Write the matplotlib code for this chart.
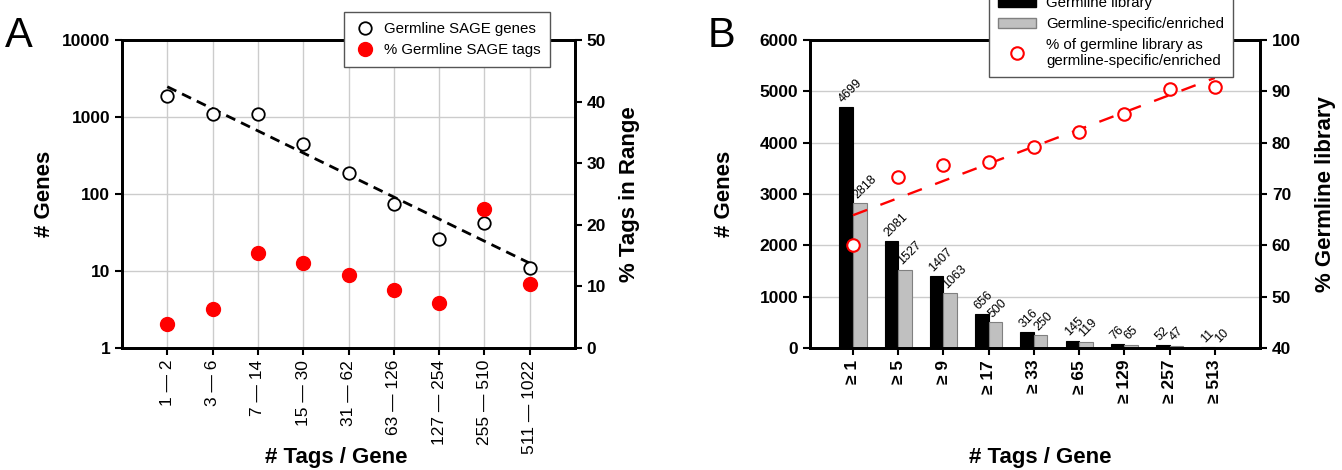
import numpy as np
import matplotlib
matplotlib.use('Agg')
import matplotlib.pyplot as plt
from matplotlib.lines import Line2D
from matplotlib.patches import Patch
from matplotlib.ticker import FixedLocator, NullLocator, FixedFormatter

plt.rcParams['font.family'] = ['Liberation Sans', 'DejaVu Sans']

# panel A data
ranges_a = ['1 \u2014 2', '3 \u2014 6', '7 \u2014 14', '15 \u2014 30', '31 \u2014 62',
            '63 \u2014 126', '127 \u2014 254', '255 \u2014 510', '511 \u2014 1022']
sage_genes = [1850, 1100, 1100, 450, 185, 75, 26, 42, 11]
pct_tags = [3.9, 6.3, 15.4, 13.8, 11.9, 9.4, 7.3, 22.6, 10.4]

# panel B data
ranges_b = ['\u2265 1', '\u2265 5', '\u2265 9', '\u2265 17', '\u2265 33',
            '\u2265 65', '\u2265 129', '\u2265 257', '\u2265 513']
germline_lib = [4699, 2081, 1407, 656, 316, 145, 76, 52, 11]
germline_spec = [2818, 1527, 1063, 500, 250, 119, 65, 47, 10]

fig = plt.figure(figsize=(13.42, 4.70), dpi=100)

grid_col = '#cccccc'


def style_box(ax):
    for s in ax.spines.values():
        s.set_linewidth(2)


def bold_ticks(labels, size=12.5):
    for lab in labels:
        lab.set_fontweight('bold')
        lab.set_fontsize(size)


# ---------------- Panel A ----------------
ax = fig.add_axes([0.0909, 0.2596, 0.3376, 0.6553])
x = np.arange(len(ranges_a))
ax.set_yscale('log')
ax.set_ylim(1, 10000)
ax.set_xlim(-1, 9)
ax.yaxis.set_major_locator(FixedLocator([1, 10, 100, 1000, 10000]))
ax.yaxis.set_major_formatter(FixedFormatter(['1', '10', '100', '1000', '10000']))
ax.yaxis.set_minor_locator(NullLocator())
ax.set_xticks(x)
ax.set_xticklabels(ranges_a, rotation=90, fontsize=12.5)
ax.grid(True, color=grid_col, lw=1)
ax.set_axisbelow(True)
bold_ticks(ax.get_yticklabels())
ax.tick_params(axis='both', direction='out', length=5, width=1.5)
style_box(ax)

# trend line through log of gene counts
fit = np.polyfit(x, np.log10(sage_genes), 1)
xf = np.array([0, 8])
ax.plot(xf, 10 ** np.polyval(fit, xf), color='black', lw=2, dashes=(3.6, 2.3), zorder=3)
ax.plot(x, sage_genes, 'o', ms=9, mfc='white', mec='black', mew=1.3, zorder=4)

ax2 = ax.twinx()
ax2.set_ylim(0, 50)
ax2.set_yticks([0, 10, 20, 30, 40, 50])
bold_ticks(ax2.get_yticklabels())
ax2.tick_params(axis='y', direction='out', length=5, width=1.5)
style_box(ax2)
ax2.plot(x, pct_tags, 'o', ms=10, color='#ff0000', zorder=4)

h_a = [Line2D([], [], marker='o', ls='none', ms=9, mfc='white', mec='black', mew=1.3),
       Line2D([], [], marker='o', ls='none', ms=10, color='#ff0000')]
leg = ax2.legend(h_a, ['Germline SAGE genes', '% Germline SAGE tags'],
                 loc='upper right', bbox_to_anchor=(550 / 1342, 1 - 12 / 470),
                 bbox_transform=fig.transFigure, borderaxespad=0, fontsize=10.8,
                 fancybox=False, edgecolor='#555555', framealpha=1, handletextpad=0.5,
                 borderpad=0.65, labelspacing=0.5, handlelength=1.5)
leg.get_frame().set_linewidth(1)

fig.text(45 / 1342, 0.587, '# Genes', rotation=90, fontsize=16, fontweight='bold',
         ha='center', va='center')
fig.text(630 / 1342, 0.587, '% Tags in Range', rotation=90, fontsize=16,
         fontweight='bold', ha='center', va='center')
fig.text(336 / 1342, 1 - 458 / 470, '# Tags / Gene', fontsize=16, fontweight='bold',
         ha='center', va='center')
fig.text(0.004, 0.965, 'A', fontsize=30, va='top', ha='left')

# ---------------- Panel B ----------------
bx = fig.add_axes([0.6036, 0.2596, 0.3353, 0.6553])
xb = np.arange(len(ranges_b))
w = 0.3
bx.bar(xb - w / 2, germline_lib, width=w, color='black', edgecolor='black', lw=0.8)
bx.bar(xb + w / 2, germline_spec, width=w, color='#c0c0c0', edgecolor='#808080', lw=0.8)
bx.set_ylim(0, 6000)
bx.set_xlim(-0.95, 9)
bx.set_yticks(range(0, 6001, 1000))
bx.set_xticks(xb)
bx.set_xticklabels(ranges_b, rotation=90, fontsize=12.5, fontweight='bold')
bx.yaxis.grid(True, color=grid_col, lw=1)
bx.set_axisbelow(True)
bold_ticks(bx.get_yticklabels())
bx.tick_params(axis='both', direction='out', length=5, width=1.5)
style_box(bx)

for i in range(len(xb)):
    bx.text(xb[i] - w + 0.08, germline_lib[i] + 80, str(germline_lib[i]),
            rotation=45, rotation_mode='anchor', ha='left', va='baseline', fontsize=9)
    bx.text(xb[i] + 0.09, germline_spec[i] + 90, str(germline_spec[i]),
            rotation=45, rotation_mode='anchor', ha='left', va='baseline', fontsize=9)

bx2 = bx.twinx()
bx2.set_ylim(40, 100)
bx2.set_yticks(range(40, 101, 10))
bold_ticks(bx2.get_yticklabels())
bx2.tick_params(axis='y', direction='out', length=5, width=1.5)
style_box(bx2)

pct_spec = 100 * np.array(germline_spec) / np.array(germline_lib)
fitb = np.polyfit(xb, pct_spec, 1)
bx2.plot(xf, np.polyval(fitb, xf), color='#ff0000', lw=1.7, dashes=(6.4, 6), zorder=3)
bx2.plot(xb, pct_spec, 'o', ms=9, mfc='white', mec='#ff0000', mew=1.5, zorder=4)

h_b = [Patch(facecolor='black', edgecolor='black'),
       Patch(facecolor='#c0c0c0', edgecolor='#808080'),
       Line2D([], [], marker='o', ls='none', ms=9, mfc='white', mec='#ff0000', mew=1.5)]
legb = bx2.legend(h_b, ['Germline library', 'Germline-specific/enriched',
                        '% of germline library as\ngermline-specific/enriched'],
                  loc='lower right', bbox_to_anchor=(1233 / 1342, 1 - 77 / 470),
                  bbox_transform=fig.transFigure, borderaxespad=0, fontsize=10.8,
                  fancybox=False, edgecolor='#555555', framealpha=1, handletextpad=0.7,
                  borderpad=0.6, labelspacing=0.45, handlelength=2.5)
legb.get_frame().set_linewidth(1)

fig.text(724 / 1342, 0.587, '# Genes', rotation=90, fontsize=16, fontweight='bold',
         ha='center', va='center')
fig.text(1325 / 1342, 0.587, '% Germline library', rotation=90, fontsize=16,
         fontweight='bold', ha='center', va='center')
fig.text(1040 / 1342, 1 - 458 / 470, '# Tags / Gene', fontsize=16, fontweight='bold',
         ha='center', va='center')
fig.text(708 / 1342, 0.965, 'B', fontsize=30, va='top', ha='left')

fig.savefig('out.png', dpi=100)
